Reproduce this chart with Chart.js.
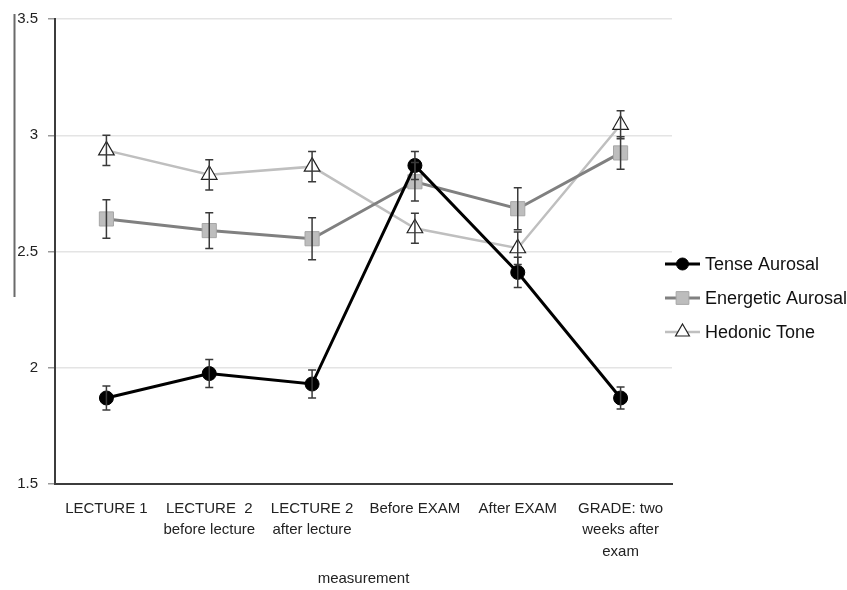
<!DOCTYPE html>
<html>
<head>
<meta charset="utf-8">
<script src="https://cdn.jsdelivr.net/npm/chart.js@4/dist/chart.umd.min.js"></script>
<style>
  html, body { margin: 0; padding: 0; background: #fff; }
  #wrap { width: 847px; height: 590px; }
</style>
</head>
<body>
<div id="wrap"><canvas id="moodChart" width="847" height="590"></canvas></div>
<script>
const categories = [
  'LECTURE 1',
  ['LECTURE  2', 'before lecture'],
  ['LECTURE 2', 'after lecture'],
  'Before EXAM',
  'After EXAM',
  ['GRADE: two', 'weeks after', 'exam']
];
const tense = [1.87, 1.975, 1.93, 2.87, 2.41, 1.87];
const tenseErr = [0.052, 0.06, 0.06, 0.06, 0.065, 0.047];
const energetic = [2.64, 2.59, 2.555, 2.80, 2.684, 2.924];
const energeticErr = [0.083, 0.077, 0.09, 0.083, 0.09, 0.07];
const hedonic = [2.935, 2.83, 2.865, 2.60, 2.514, 3.045];
const hedonicErr = [0.065, 0.065, 0.065, 0.064, 0.07, 0.06];
const yTicks = [1.5, 2, 2.5, 3, 3.5];

const FONT = '"Liberation Sans", Arial, sans-serif';

// error bars, drawn through the y scale
const errorBars = {
  id: 'errorBars',
  afterDatasetsDraw(chart) {
    const c = chart.ctx;
    const y = chart.scales.y;
    c.save();
    c.strokeStyle = '#3a3a3a';
    c.lineWidth = 1.5;
    chart.data.datasets.forEach((ds, i) => {
      const meta = chart.getDatasetMeta(i);
      meta.data.forEach((pt, j) => {
        const e = ds.errors[j];
        const top = y.getPixelForValue(ds.data[j] + e);
        const bot = y.getPixelForValue(ds.data[j] - e);
        c.beginPath();
        c.moveTo(pt.x, top); c.lineTo(pt.x, bot);
        c.moveTo(pt.x - 4, top); c.lineTo(pt.x + 4, top);
        c.moveTo(pt.x - 4, bot); c.lineTo(pt.x + 4, bot);
        c.stroke();
      });
    });
    c.restore();
  }
};

// legend with line + marker samples on the right
const sideLegend = {
  id: 'sideLegend',
  afterDraw(chart) {
    const c = chart.ctx;
    const x0 = 665, rows = [264, 298, 332];
    c.save();
    chart.data.datasets.forEach((ds, i) => {
      const yy = rows[i];
      c.strokeStyle = ds.borderColor;
      c.lineWidth = ds.borderWidth;
      c.beginPath(); c.moveTo(x0, yy); c.lineTo(x0 + 35, yy); c.stroke();
      c.fillStyle = ds.pointBackgroundColor;
      c.strokeStyle = ds.pointBorderColor;
      c.lineWidth = ds.pointBorderWidth;
      Chart.helpers.drawPoint(c, {
        pointStyle: ds.pointStyle, radius: ds.pointRadius - 1,
        borderWidth: ds.pointBorderWidth, rotation: 0
      }, x0 + 17.5, yy);
      c.fillStyle = '#111';
      c.font = '18px ' + FONT;
      c.textBaseline = 'middle';
      c.fillText(ds.label, x0 + 40, yy + 1);
    });
    // stray vertical rule at the far left of the original figure
    c.strokeStyle = '#6a6a6a';
    c.lineWidth = 2;
    c.beginPath(); c.moveTo(14.5, 14); c.lineTo(14.5, 297); c.stroke();
    c.restore();
  }
};

const ctx = document.getElementById('moodChart').getContext('2d');
new Chart(ctx, {
  type: 'line',
  data: {
    labels: categories,
    datasets: [{
      label: 'Tense Aurosal',
      data: tense,
      errors: tenseErr,
      borderColor: '#000000',
      borderWidth: 3,
      pointStyle: 'circle',
      pointRadius: 7,
      pointBackgroundColor: '#000000',
      pointBorderColor: '#000000',
      pointBorderWidth: 1
    }, {
      label: 'Energetic Aurosal',
      data: energetic,
      errors: energeticErr,
      borderColor: '#808080',
      borderWidth: 3,
      pointStyle: 'rect',
      pointRadius: 10,
      pointBackgroundColor: '#bdbdbd',
      pointBorderColor: '#a6a6a6',
      pointBorderWidth: 1
    }, {
      label: 'Hedonic Tone',
      data: hedonic,
      errors: hedonicErr,
      borderColor: '#bfbfbf',
      borderWidth: 2.5,
      pointStyle: 'triangle',
      pointRadius: 9,
      pointBackgroundColor: '#ffffff',
      pointBorderColor: '#222222',
      pointBorderWidth: 1.2
    }]
  },
  options: {
    responsive: false,
    animation: false,
    layout: { padding: { top: 14, right: 175, left: 0, bottom: 0 } },
    plugins: {
      legend: { display: false },
      tooltip: { enabled: false }
    },
    scales: {
      x: {
        offset: true,
        grid: { display: false, drawTicks: false },
        border: { color: '#3c3c3c', width: 2 },
        ticks: {
          color: '#222', font: { family: FONT, size: 15, lineHeight: 1.43 },
          maxRotation: 0, autoSkip: false, padding: 14
        },
        title: {
          display: true, text: 'measurement', color: '#222',
          font: { family: FONT, size: 15 }, padding: { top: 8, bottom: 2 }
        },
        afterFit(s) { s.height = 106; }
      },
      y: {
        min: 1.5, max: 3.5,
        afterBuildTicks(s) { s.ticks = yTicks.map(v => ({ value: v })); },
        grid: { color: '#e4e4e4', lineWidth: 1.5, tickLength: 7, tickColor: '#9a9a9a' },
        border: { color: '#3c3c3c', width: 2 },
        ticks: {
          color: '#222', font: { family: FONT, size: 15 }, padding: 10,
          callback: v => String(v)
        },
        afterFit(s) { s.width = 55; }
      }
    }
  },
  plugins: [errorBars, sideLegend]
});
</script>
</body>
</html>
